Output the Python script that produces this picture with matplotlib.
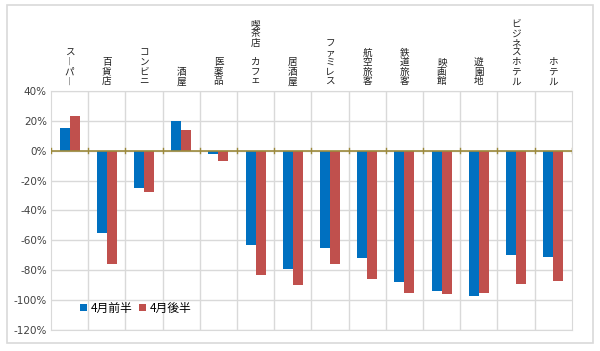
import matplotlib.pyplot as plt
import numpy as np

plt.rcParams['font.family'] = ['Noto Sans CJK JP', 'DejaVu Sans']

categories = ['スーパー', '百貨店', 'コンビニ', '酒屋', '医薬品', '喫茶店 カフェ',
              '居酒屋', 'ファミレス', '航空旅客', '鉄道旅客', '映画館', '遊園地',
              'ビジネスホテル', 'ホテル']
first_half = [15, -55, -25, 20, -2, -63, -79, -65, -72, -88, -94, -97, -70, -71]
second_half = [23, -76, -28, 14, -7, -83, -90, -76, -86, -95, -96, -95, -89, -87]
yticks = [40, 20, 0, -20, -40, -60, -80, -100, -120]

fig = plt.figure(figsize=(6, 3.51), dpi=100)
ax = fig.add_axes([0.085, 0.06, 0.868, 0.681])

# outer frame
fig.patches.append(plt.Rectangle((7 / 600, 8 / 351), 586 / 600, 338 / 351,
                                 transform=fig.transFigure, fill=False,
                                 ec='#d9d9d9', lw=1.2))

x = np.arange(len(categories))
w = 0.27
ax.bar(x - w / 2, first_half, w, color='#0070C0', label='4月前半', zorder=3)
ax.bar(x + w / 2, second_half, w, color='#C0504D', label='4月後半', zorder=3)

ax.set_xlim(-0.5, len(categories) - 0.5)
ax.set_ylim(-120, 40)
ax.set_yticks(yticks)
ax.set_yticklabels([f'{v}%' for v in yticks], fontsize=7.5, color='#404040',
                   family='DejaVu Sans')
ax.tick_params(axis='y', length=0, pad=3)
ax.set_xticks([])

for b in np.arange(0.5, len(categories) - 1, 1):
    ax.axvline(b, color='#d9d9d9', lw=1, zorder=1)
for v in yticks:
    ax.axhline(v, color='#d9d9d9', lw=1, zorder=1)

ax.axhline(0, color='#9c8a3c', lw=1.2, zorder=4)
for b in np.arange(-0.5, len(categories), 1):
    ax.plot([b, b], [-1.5, 1.5], color='#9c8a3c', lw=1, zorder=4)

for s in ax.spines.values():
    s.set_color('#d9d9d9')

# vertical category labels, one character at a time from the bottom up
pitch = 6.9  # points
for i, c in enumerate(categories):
    for k, ch in enumerate(reversed(c)):
        if ch == 'ー':
            ch = '︱'
        ax.annotate(ch, (i, 40), xytext=(0, 6.5 + k * pitch),
                    textcoords='offset points', ha='center', va='center',
                    fontsize=6.9, color='#202020', annotation_clip=False)

ax.legend(loc='lower left', bbox_to_anchor=(0.035, 0.02), frameon=False,
          fontsize=8.5, handlelength=0.6, handleheight=0.6, handletextpad=0.3,
          columnspacing=0.6, ncol=2)

fig.savefig('out.png', dpi=100)
